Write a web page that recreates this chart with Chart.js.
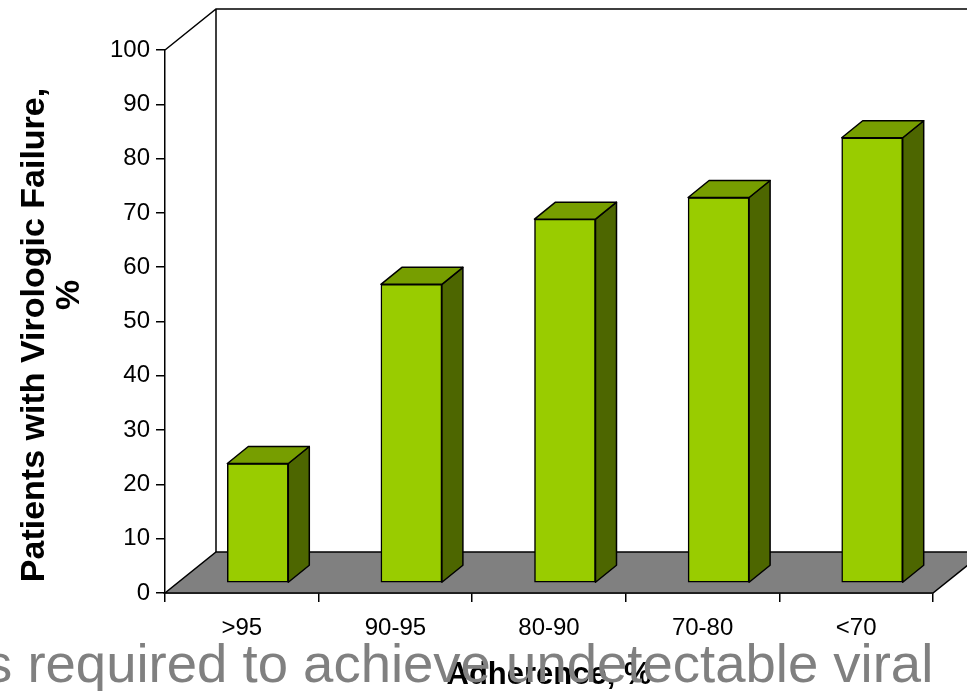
<!DOCTYPE html>
<html><head><meta charset="utf-8">
<script src="https://cdn.jsdelivr.net/npm/chart.js@4.4.1/dist/chart.umd.min.js"></script>
<style>
html,body{margin:0;padding:0;background:#fff;overflow:hidden;}
#wrap{position:relative;width:967px;height:691px;overflow:hidden;}
#c{position:absolute;left:0;top:0;}
#overlay{position:absolute;left:-15px;top:637px;font:54.5px "Liberation Sans",Arial,sans-serif;color:#808080;white-space:nowrap;line-height:1;}
</style></head>
<body><div id="wrap"><canvas id="c" width="967" height="691"></canvas><div id="overlay">s required to achieve undetectable viral</div></div>
<script>
const categories = ['>95', '90-95', '80-90', '70-80', '<70'];
const failureRates = [22, 55, 67, 71, 82];
const yTickValues = [0, 10, 20, 30, 40, 50, 60, 70, 80, 90, 100];
const yTitleLines = ['Patients with Virologic Failure,', '%'];
const xTitle = 'Adherence, %';

const DX = 51, DY = 41;          // wall depth
const SHIFT_X = 16, SHIFT_Y = 10; // bar position inside depth
const BDX = 21, BDY = 17;        // bar depth
const FRONT = '#99CC00', TOP = '#779E00', SIDE = '#4D6600';
const FONT = '"Liberation Sans", Arial, sans-serif';

const threeD = {
  id: 'threeD',
  beforeDatasetsDraw(chart) {
    const {ctx, chartArea: {left, right, top, bottom}} = chart;
    ctx.save();
    ctx.lineWidth = 1.5; ctx.strokeStyle = '#000';
    ctx.beginPath();
    ctx.moveTo(left, top); ctx.lineTo(left + DX, top - DY); ctx.lineTo(chart.width + 10, top - DY);
    ctx.moveTo(left + DX, top - DY); ctx.lineTo(left + DX, bottom - DY);
    ctx.stroke();
    ctx.beginPath();
    ctx.moveTo(left, bottom); ctx.lineTo(right, bottom); ctx.lineTo(right + DX, bottom - DY); ctx.lineTo(left + DX, bottom - DY);
    ctx.closePath();
    ctx.fillStyle = '#808080'; ctx.fill(); ctx.stroke();
    ctx.restore();
    ctx.save();
    ctx.translate(SHIFT_X, -SHIFT_Y);
  },
  afterDatasetsDraw(chart) {
    const ctx = chart.ctx;
    const meta = chart.getDatasetMeta(0);
    ctx.lineWidth = 1.5; ctx.strokeStyle = '#000'; ctx.lineJoin = 'round';
    meta.data.forEach(bar => {
      const {x, y, base, width} = bar.getProps(['x', 'y', 'base', 'width'], true);
      const l = x - width / 2, r = x + width / 2;
      ctx.beginPath();
      ctx.moveTo(r, y); ctx.lineTo(r + BDX, y - BDY); ctx.lineTo(r + BDX, base - BDY); ctx.lineTo(r, base);
      ctx.closePath(); ctx.fillStyle = SIDE; ctx.fill(); ctx.stroke();
      ctx.beginPath();
      ctx.moveTo(l, y); ctx.lineTo(l + BDX, y - BDY); ctx.lineTo(r + BDX, y - BDY); ctx.lineTo(r, y);
      ctx.closePath(); ctx.fillStyle = TOP; ctx.fill(); ctx.stroke();
    });
    ctx.restore();
  },
  afterDraw(chart) {
    const ctx = chart.ctx;
    const draw = (text, cx, cy) => {
      ctx.save();
      ctx.fillStyle = '#000';
      ctx.font = 'bold 34px ' + FONT;
      ctx.textAlign = 'center'; ctx.textBaseline = 'middle';
      ctx.translate(cx, cy); ctx.rotate(-Math.PI / 2);
      ctx.fillText(text, 0, 0);
      ctx.restore();
    };
    draw(yTitleLines[0], 35, 335);
    draw(yTitleLines[1], 70, 295);
  }
};

new Chart(document.getElementById('c'), {
  type: 'bar',
  data: {
    labels: categories,
    datasets: [{
      data: failureRates,
      backgroundColor: FRONT,
      borderColor: '#000',
      borderWidth: 1.5,
      borderSkipped: false,
      barThickness: 61
    }]
  },
  options: {
    responsive: false,
    animation: false,
    events: [],
    layout: {padding: {top: 50, right: 34, left: 0, bottom: 0}},
    plugins: {legend: {display: false}, tooltip: {enabled: false}},
    scales: {
      x: {
        grid: {display: true, drawOnChartArea: false, drawTicks: true, tickLength: 9, color: '#000', lineWidth: 1.5, offset: true},
        border: {display: true, color: '#000', width: 1.5},
        ticks: {color: '#000', font: {family: FONT, size: 24}, padding: 12, maxRotation: 0},
        title: {display: true, text: xTitle, color: '#000', font: {family: FONT, size: 31, weight: 'bold'}, padding: {top: 0, bottom: -3}},
        afterFit(s) { s.height = 98; }
      },
      y: {
        min: 0, max: 100,
        afterBuildTicks(s) { s.ticks = yTickValues.map(v => ({value: v})); },
        grid: {display: true, drawOnChartArea: false, drawTicks: true, tickLength: 9, color: '#000', lineWidth: 1.5},
        border: {display: true, color: '#000', width: 1.5},
        ticks: {color: '#000', font: {family: FONT, size: 24}, padding: 6},
        afterFit(s) { s.width = 165; }
      }
    }
  },
  plugins: [threeD]
});
</script>
</body></html>
